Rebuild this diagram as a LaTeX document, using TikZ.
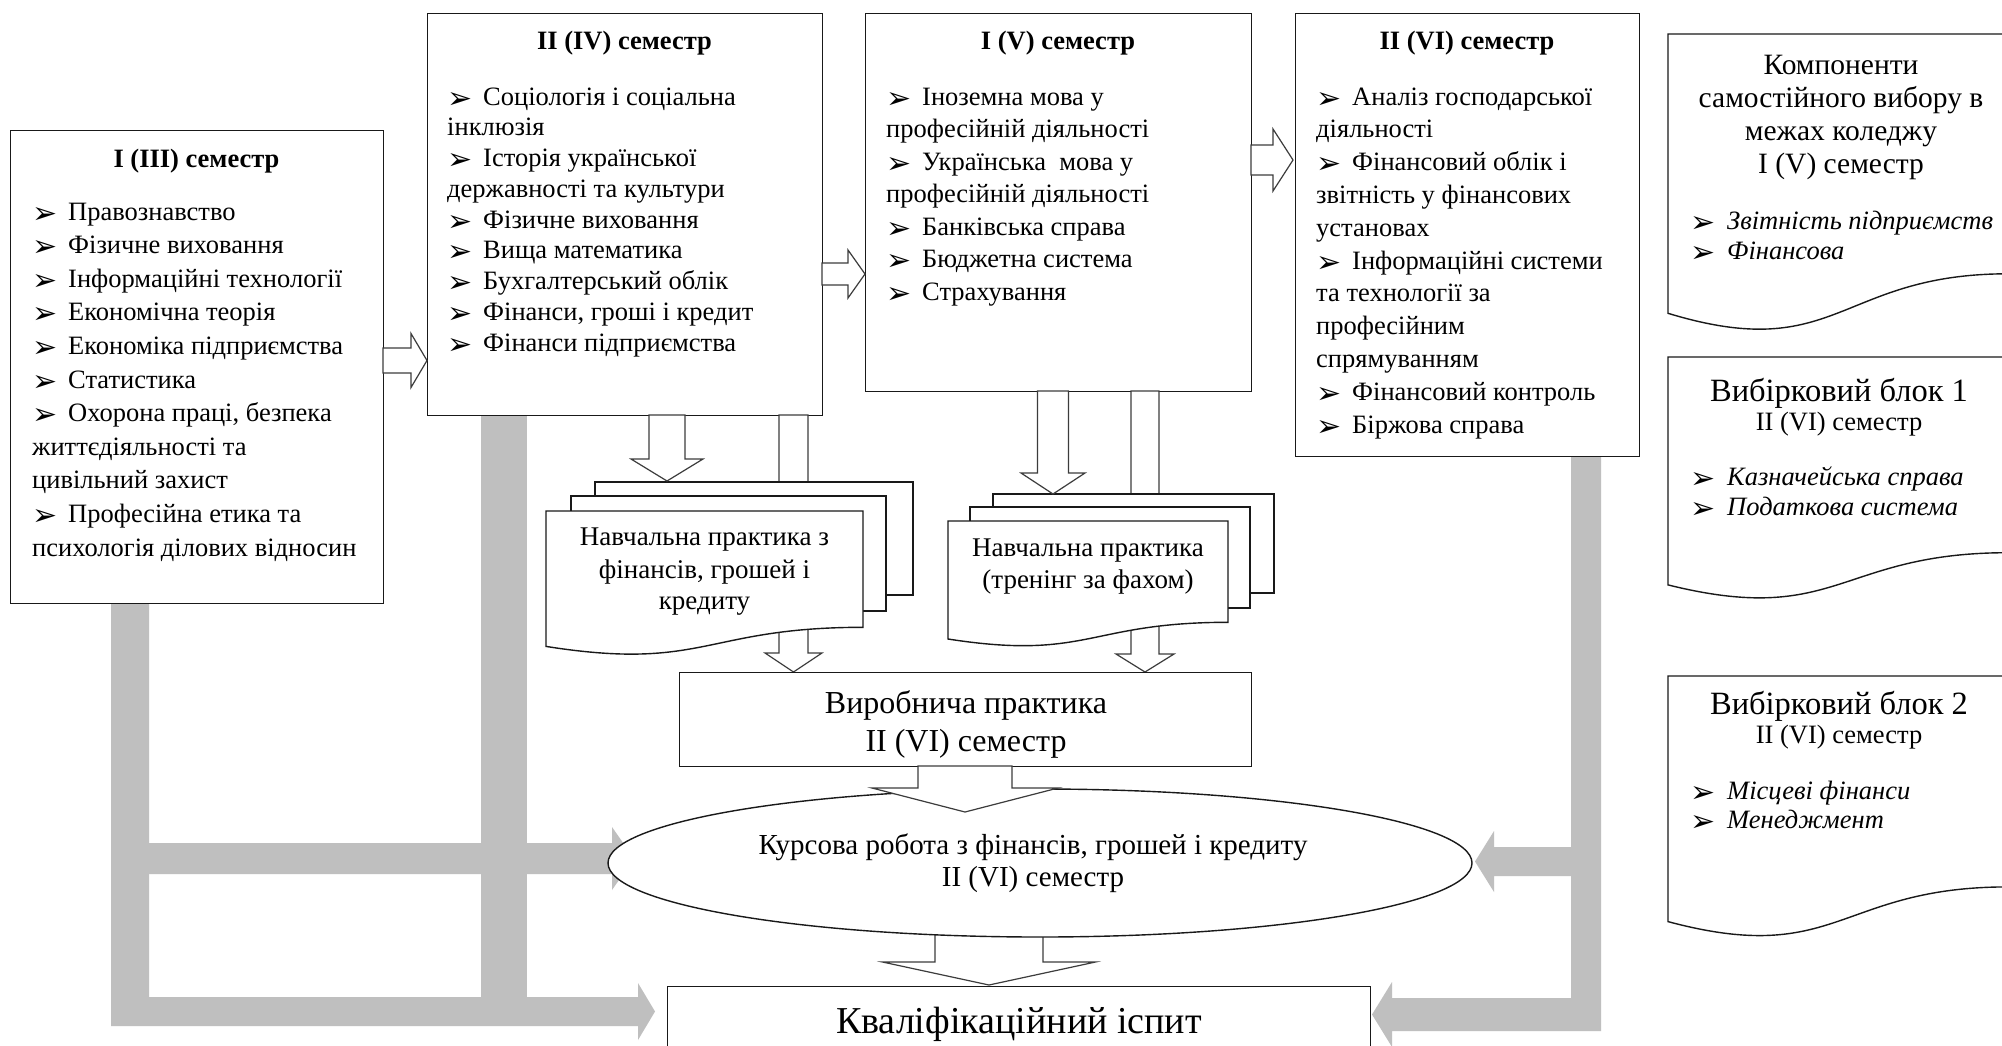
\documentclass[tikz,border=0pt]{standalone}
\usepackage{fontspec}
\setmainfont{Liberation Serif}
\newfontfamily\dvfont{DejaVu Sans}
\usetikzlibrary{shapes.geometric}
\definecolor{barg}{RGB}{191,191,191}
\definecolor{lnc}{RGB}{25,25,25}
\definecolor{arc}{RGB}{60,60,60}
\newcommand\bul{\makebox[36pt][l]{\raisebox{-3pt}{\fontsize{30}{30}\selectfont\dvfont ➢}}}
\newcommand\rbul{\makebox[37pt][l]{\raisebox{-3pt}{\fontsize{30}{30}\selectfont\dvfont ➢}}}
% hollow down arrow: #1 x centre, #2 y top, #3 y tip, #4 shaft w, #5 head w, #6 head length
\newcommand\hdown[6]{\draw[harrow] (#1-#4/2,#2) -- (#1-#4/2,#3-#6) -- (#1-#5/2,#3-#6) -- (#1,#3) -- (#1+#5/2,#3-#6) -- (#1+#4/2,#3-#6) -- (#1+#4/2,#2) -- cycle;}
% hollow right arrow: #1 y centre, #2 x start, #3 x tip, #4 shaft w, #5 head w, #6 head length
\newcommand\hright[6]{\draw[harrow] (#2,#1-#4/2) -- (#3-#6,#1-#4/2) -- (#3-#6,#1-#5/2) -- (#3,#1) -- (#3-#6,#1+#5/2) -- (#3-#6,#1+#4/2) -- (#2,#1+#4/2) -- cycle;}
% lines of text: #1 name prefix, #2 x, #3 first baseline, #4 step, #5 style, #6 list
\newcommand\textlines[6]{\foreach \t [count=\i] in {#6}{\node[#5] (#1\i) at (#2,{#3+(\i-1)*#4}) {\t};}}
\begin{document}
\begin{tikzpicture}[x=1pt,y=-1pt,
  box/.style={draw=lnc, line width=1.4pt, fill=white},
  harrow/.style={draw=arc, line width=1.2pt, fill=white, line join=miter},
  stxt/.style={anchor=base west, inner sep=0pt, font=\fontsize{26.5}{30}\selectfont},
  ttl/.style={anchor=base, inner sep=0pt, font=\fontsize{26.5}{30}\selectfont\bfseries},
  ctxt/.style={anchor=base, inner sep=0pt},
  rtxt/.style={anchor=base west, inner sep=0pt, font=\fontsize{26.5}{30}\selectfont\itshape}]
\useasboundingbox (0,0) rectangle (2002,1045);
\clip (0,0) rectangle (2002,1045);
\fill[white] (0,0) rectangle (2002,1045);

% grey arrows
\fill[barg] (111,603) -- (149,603) -- (149,997) -- (638,997) -- (638,983) -- (655,1011.5) -- (638,1040) -- (638,1026) -- (111,1026) -- cycle;
\fill[barg] (481,415) rectangle (527,997);
\fill[barg] (140,843) -- (612,843) -- (612,827) -- (634,858.5) -- (612,890) -- (612,874) -- (140,874) -- cycle;
\fill[barg] (1571,456) -- (1601,456) -- (1601,1031) -- (1392,1031) -- (1392,1047) -- (1372,1014.5) -- (1392,982) -- (1392,998) -- (1571,998) -- cycle;
\fill[barg] (1580,847) -- (1494,847) -- (1494,831) -- (1475,861.5) -- (1494,892) -- (1494,876) -- (1580,876) -- cycle;

% semester boxes
\node[box, anchor=north west, minimum width=373pt, minimum height=473pt] (s1) at (10,130) {};
\node[box, anchor=north west, minimum width=395pt, minimum height=402pt] (s2) at (427,13) {};
\node[box, anchor=north west, minimum width=386pt, minimum height=378pt] (s3) at (865,13) {};
\node[box, anchor=north west, minimum width=344pt, minimum height=443pt] (s4) at (1295,13) {};

\node[ttl] (t1) at (196.5,167) {I (III) семестр};
\node[ttl] (t2) at (624.5,49) {II (IV) семестр};
\node[ttl] (t3) at (1058,49) {I (V) семестр};
\node[ttl] (t4) at (1467,49) {II (VI) семестр};

\textlines{a}{32}{220}{33.6}{stxt}{\bul Правознавство, \bul Фізичне виховання, \bul Інформаційні технології, \bul Економічна теорія, \bul Економіка підприємства, \bul Статистика, {\bul Охорона праці, безпека}, життєдіяльності та, цивільний захист, \bul Професійна етика та, психологія ділових відносин}
\textlines{b}{447}{105}{30.75}{stxt}{\bul Соціологія і соціальна, інклюзія, \bul Історія української, державності та культури, \bul Фізичне виховання, \bul Вища математика, \bul Бухгалтерський облік, {\bul Фінанси, гроші і кредит}, \bul Фінанси підприємства}
\textlines{c}{886}{105}{32.5}{stxt}{\bul Іноземна мова у, професійній діяльності, \bul Українська\ \ мова у, професійній діяльності, \bul Банківська справа, \bul Бюджетна система, \bul Страхування}
\textlines{d}{1316}{105}{32.8}{stxt}{\bul Аналіз господарської, діяльності, \bul Фінансовий облік і, звітність у фінансових, установах, \bul Інформаційні системи, та технології за, професійним, спрямуванням, \bul Фінансовий контроль, \bul Біржова справа}

% arrows between semesters
\hright{360.5}{383}{427}{25}{54}{16}
\hright{274}{822}{865}{22}{48}{17}
\hright{160}{1251}{1293}{30}{62}{20}

% long arrows to production practice (behind the stacks)
\hdown{793.5}{415}{672}{29}{57}{19}
\hdown{1145}{391}{672}{28}{58}{18}

% stack 1
\draw[box] (595,482) rectangle (913,595);
\draw[box] (571,496) rectangle (886,611);
\draw[box] (546,511) -- (863,511) -- (863,627.3) .. controls (704.5,627.3) and (704.5,671.5) .. (546,646.4) -- cycle;
\node[ctxt, font=\fontsize{27}{31}\selectfont] (p1a) at (704.5,545) {Навчальна практика з};
\node[ctxt, font=\fontsize{27}{31}\selectfont] (p1b) at (704.5,578) {фінансів, грошей і};
\node[ctxt, font=\fontsize{27}{31}\selectfont] (p1c) at (704.5,609) {кредиту};

% stack 2
\draw[box] (993,494) rectangle (1274,593);
\draw[box] (970,507) rectangle (1250,608);
\draw[box] (948,521) -- (1228,521) -- (1228,622.3) .. controls (1088,622.3) and (1088,660.8) .. (948,639) -- cycle;
\node[ctxt, font=\fontsize{27}{31}\selectfont] (p2a) at (1088,556) {Навчальна практика};
\node[ctxt, font=\fontsize{27}{31}\selectfont] (p2b) at (1088,588) {(тренінг за фахом)};

% short arrows into the stacks
\hdown{667}{415}{481}{36}{72}{22}
\hdown{1053}{391}{494}{31}{64}{21}

% production practice
\node[box, anchor=north west, minimum width=572pt, minimum height=94pt] (vp) at (679,672) {};
\node[ctxt, font=\fontsize{32}{37}\selectfont] (vpa) at (966,713) {Виробнича практика};
\node[ctxt, font=\fontsize{32}{37}\selectfont] (vpb) at (966,751) {II (VI) семестр};

% arrow ellipse -> exam (drawn first so the ellipse covers its top)
\hdown{989}{930}{985}{108}{213}{23}

% course work ellipse
\node[box, ellipse, inner sep=0pt, minimum width=864pt, minimum height=148pt] (kr) at (1040,863) {};
\node[ctxt, font=\fontsize{29}{33}\selectfont] (kra) at (1033,854) {Курсова робота з фінансів, грошей і кредиту};
\node[ctxt, font=\fontsize{29}{33}\selectfont] (krb) at (1033,886) {II (VI) семестр};

\hdown{965}{766}{812}{94}{186}{24}

% qualification exam
\node[box, anchor=north west, minimum width=703pt, minimum height=80pt] (ki) at (667,986) {};
\node[ctxt, font=\fontsize{38}{42}\selectfont] (kia) at (1019,1033) {Кваліфікаційний іспит};

% right column
\draw[box] (1668,34) -- (2008,34) -- (2008,273.8) .. controls (1838,273.8) and (1838,365) .. (1668,313.3) -- cycle;
\textlines{e}{1841}{74}{33}{ctxt, font=\fontsize{29.5}{33}\selectfont}{Компоненти, самостійного вибору в, межах коледжу, I (V) семестр}
\textlines{f}{1690}{229}{30}{rtxt}{\rbul Звітність підприємств, \rbul Фінансова}

\draw[box] (1668,357) -- (2008,357) -- (2008,552.7) .. controls (1838,552.7) and (1838,627.1) .. (1668,584.9) -- cycle;
\node[ctxt, font=\fontsize{32.5}{36}\selectfont] (g1) at (1839,401) {Вибірковий блок 1};
\node[ctxt, font=\fontsize{26.5}{30}\selectfont] (g2) at (1839,430) {II (VI) семестр};
\textlines{h}{1690}{485}{30}{rtxt}{\rbul Казначейська справа, \rbul Податкова система}

\draw[box] (1668,676) -- (2008,676) -- (2008,886.9) .. controls (1838,886.9) and (1838,967.1) .. (1668,921.6) -- cycle;
\node[ctxt, font=\fontsize{32.5}{36}\selectfont] (j1) at (1839,714) {Вибірковий блок 2};
\node[ctxt, font=\fontsize{26.5}{30}\selectfont] (j2) at (1839,743) {II (VI) семестр};
\textlines{k}{1690}{799}{29}{rtxt}{\rbul Місцеві фінанси, \rbul Менеджмент}
\end{tikzpicture}
\end{document}
